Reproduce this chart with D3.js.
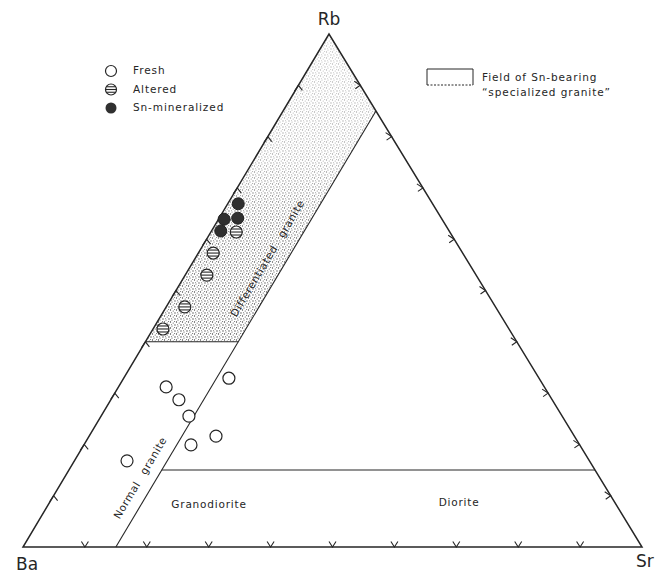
<!DOCTYPE html>
<html>
<head>
<meta charset="utf-8">
<script src="https://cdn.jsdelivr.net/npm/d3@7/dist/d3.min.js"></script>
<style>
  html, body { margin: 0; padding: 0; background: #fff; }
  svg { display: block; }
  text { font-family: "DejaVu Sans", "Liberation Sans", sans-serif; fill: #262626; }
</style>
</head>
<body>
<svg id="chart" width="665" height="574"></svg>
<script>
// Apex labels of the Rb–Ba–Sr ternary diagram
const apexLabels = ["Rb", "Ba", "Sr"];

// Sample compositions in percent [Rb, Sr]; Ba makes up the remainder
const freshRb  = [31.2, 28.7, 25.5, 32.9, 19.9, 21.6, 16.8];
const freshSr  = [7.7, 11.0, 14.2, 17.0, 17.3, 20.5, 8.5];
const alteredRb = [42.5, 46.8, 53.0, 57.3, 61.4];
const alteredSr = [1.6, 3.0, 3.5, 2.4, 4.1];
const mineralRb = [66.9, 64.1, 63.9, 61.6];
const mineralSr = [1.7, 3.0, 0.9, 1.5];

// Field boundaries (percent)
const graniteSrLimit = 15;      // Sr line separating granites from the rest
const differentiatedRbMin = 40; // lower Rb bound of specialized-granite field
const granodioriteRbMax = 15;   // Rb line above Granodiorite / Diorite

// Tick values along each side
const tickValues = [10, 20, 30, 40, 50, 60, 70, 80, 90];

// Legend entries
const legendNames = ["Fresh", "Altered", "Sn-mineralized"];
const fieldLegend = ["Field of Sn-bearing", "\u201Cspecialized granite\u201D"];

const svg = d3.select("#chart");

// Corner positions of the triangle
const BA = [23, 547], SR = [642, 547], RB = [329, 34];

// Ternary projection built from linear scales
const yRb = d3.scaleLinear().domain([0, 100]).range([BA[1], RB[1]]);
const xRb = d3.scaleLinear().domain([0, 100]).range([0, RB[0] - BA[0]]);
const xSr = d3.scaleLinear().domain([0, 100]).range([0, SR[0] - BA[0]]);
const px = (rb, sr) => [BA[0] + xRb(rb) + xSr(sr), yRb(rb)];

const ink = "#262626";

// ---- defs: stipple pattern, thinning out toward the apex
const defs = svg.append("defs");
const pat = defs.append("pattern").attr("id", "stipple")
  .attr("patternUnits", "userSpaceOnUse").attr("width", 6).attr("height", 6);
[[1, 1, 0.65], [4, 2, 0.6], [2.5, 4, 0.65], [5.2, 5, 0.55], [0.3, 3.6, 0.5], [3.6, 0.2, 0.45]]
  .forEach(d => pat.append("circle").attr("cx", d[0]).attr("cy", d[1]).attr("r", d[2]).attr("fill", "#3a3a3a"));

const grad = defs.append("linearGradient").attr("id", "fade")
  .attr("gradientUnits", "userSpaceOnUse")
  .attr("x1", 0).attr("y1", yRb(100)).attr("x2", 0).attr("y2", yRb(differentiatedRbMin));
grad.append("stop").attr("offset", 0).attr("stop-color", "#fff").attr("stop-opacity", 0.35);
grad.append("stop").attr("offset", 0.4).attr("stop-color", "#fff").attr("stop-opacity", 0.5);
grad.append("stop").attr("offset", 0.62).attr("stop-color", "#fff").attr("stop-opacity", 0.85);
grad.append("stop").attr("offset", 1).attr("stop-color", "#fff").attr("stop-opacity", 1);
const mask = defs.append("mask").attr("id", "fadeMask");
mask.append("rect").attr("x", 0).attr("y", 0).attr("width", 665).attr("height", 574)
  .attr("fill", "url(#fade)");

const line = d3.line();

// ---- specialized granite field
const fieldPts = [
  px(100, 0),
  px(100 - graniteSrLimit, graniteSrLimit),
  px(differentiatedRbMin, graniteSrLimit),
  px(differentiatedRbMin, 0)
];
svg.append("path").attr("d", line(fieldPts) + "Z")
  .attr("fill", "url(#stipple)").attr("mask", "url(#fadeMask)").attr("stroke", "none");

// ---- field boundary lines
function seg(a, b) {
  return svg.append("path").attr("d", line([a, b]))
    .attr("stroke", ink).attr("stroke-width", 1.1).attr("fill", "none");
}
seg(px(100 - graniteSrLimit, graniteSrLimit), px(0, graniteSrLimit));
seg(px(differentiatedRbMin, 0), px(differentiatedRbMin, graniteSrLimit));
seg(px(granodioriteRbMax, graniteSrLimit), px(granodioriteRbMax, 100 - granodioriteRbMax));

// ---- triangle outline
svg.append("path").attr("d", line([BA, SR, RB]) + "Z")
  .attr("fill", "none").attr("stroke", ink).attr("stroke-width", 1.5)
  .attr("stroke-linejoin", "miter");

// ---- tick chevrons
const tickPath = (p, arms) =>
  line([[p[0] + arms[0][0], p[1] + arms[0][1]], p, [p[0] + arms[1][0], p[1] + arms[1][1]]]);
tickValues.forEach(v => {
  // left side (Ba–Rb)
  svg.append("path").attr("d", tickPath(px(v, 0), [[-4, 6], [4, 5]]))
    .attr("fill", "none").attr("stroke", ink).attr("stroke-width", 1.1);
  // right side (Rb–Sr)
  svg.append("path").attr("d", tickPath(px(v, 100 - v), [[-6, -4], [-5, 3.5]]))
    .attr("fill", "none").attr("stroke", ink).attr("stroke-width", 1.1);
  // base (Ba–Sr)
  svg.append("path").attr("d", tickPath(px(0, v), [[-3.5, -5.5], [3.5, -5.5]]))
    .attr("fill", "none").attr("stroke", ink).attr("stroke-width", 1.1);
});

// ---- apex labels
svg.append("text").attr("x", RB[0]).attr("y", RB[1] - 9).attr("text-anchor", "middle")
  .attr("font-size", 17).text(apexLabels[0]);
svg.append("text").attr("x", BA[0] - 7).attr("y", BA[1] + 23).attr("text-anchor", "start")
  .attr("font-size", 17).text(apexLabels[1]);
svg.append("text").attr("x", SR[0] - 6).attr("y", SR[1] + 20).attr("text-anchor", "start")
  .attr("font-size", 17).text(apexLabels[2]);

// ---- field labels
const edgeAngle = Math.atan2(RB[1] - BA[1], RB[0] - BA[0]) * 180 / Math.PI;
function rotLabel(rb, sr, str, size, ls, ws) {
  const p = px(rb, sr);
  svg.append("text").attr("transform", `translate(${p[0]},${p[1]}) rotate(${edgeAngle})`)
    .attr("text-anchor", "middle").attr("dominant-baseline", "middle")
    .attr("font-size", size).attr("letter-spacing", ls).attr("word-spacing", ws)
    .text(str);
}
rotLabel(56.2, 11.8, "Differentiated granite", 10.5, 0.6, 7);
rotLabel(13.4, 12.4, "Normal granite", 10.5, 0.6, 6);

function flatLabel(rb, sr, str) {
  const p = px(rb, sr);
  svg.append("text").attr("x", p[0]).attr("y", p[1]).attr("text-anchor", "middle")
    .attr("dominant-baseline", "middle").attr("font-size", 10.5).attr("letter-spacing", 0.8)
    .text(str);
}
flatLabel(8.2, 26.0, "Granodiorite");
flatLabel(8.6, 66.2, "Diorite");

// ---- sample symbols
const R = 6;
function hatched(g, x, y, r) {
  g.append("circle").attr("cx", x).attr("cy", y).attr("r", r)
    .attr("fill", "#fff").attr("stroke", ink).attr("stroke-width", 1.2);
  [-0.5, 0, 0.5].forEach(f => {
    const dy = f * r, hw = Math.sqrt(r * r - dy * dy);
    g.append("line").attr("x1", x - hw).attr("x2", x + hw).attr("y1", y + dy).attr("y2", y + dy)
      .attr("stroke", ink).attr("stroke-width", 1.1);
  });
}
const pts = svg.append("g");
freshRb.forEach((rb, i) => {
  const p = px(rb, freshSr[i]);
  pts.append("circle").attr("cx", p[0]).attr("cy", p[1]).attr("r", R)
    .attr("fill", "#fff").attr("stroke", ink).attr("stroke-width", 1.2);
});
alteredRb.forEach((rb, i) => {
  const p = px(rb, alteredSr[i]);
  hatched(pts, p[0], p[1], R);
});
mineralRb.forEach((rb, i) => {
  const p = px(rb, mineralSr[i]);
  pts.append("circle").attr("cx", p[0]).attr("cy", p[1]).attr("r", R)
    .attr("fill", "#303030").attr("stroke", "#222").attr("stroke-width", 1);
});

// ---- symbol legend
const leg = svg.append("g");
legendNames.forEach((name, i) => {
  const x = 111, y = 71 + i * 18.5;
  if (i === 0) leg.append("circle").attr("cx", x).attr("cy", y).attr("r", 5.5)
    .attr("fill", "#fff").attr("stroke", ink).attr("stroke-width", 1.2);
  if (i === 1) hatched(leg, x, y, 5.5);
  if (i === 2) leg.append("circle").attr("cx", x).attr("cy", y).attr("r", 5.5)
    .attr("fill", "#303030");
  leg.append("text").attr("x", 133).attr("y", y).attr("dominant-baseline", "middle")
    .attr("font-size", 10.5).attr("letter-spacing", 0.9).text(name);
});

// ---- field legend box
const bx = 427, by = 69, bw = 46, bh = 16;
svg.append("path").attr("d", line([[bx, by + bh], [bx, by], [bx + bw, by], [bx + bw, by + bh]]))
  .attr("fill", "none").attr("stroke", ink).attr("stroke-width", 1);
svg.append("line").attr("x1", bx).attr("x2", bx + bw).attr("y1", by + bh).attr("y2", by + bh)
  .attr("stroke", ink).attr("stroke-width", 1).attr("stroke-dasharray", "2,1.5");
fieldLegend.forEach((s, i) => {
  svg.append("text").attr("x", 482).attr("y", 78 + i * 15).attr("dominant-baseline", "middle")
    .attr("font-size", 10.5).attr("letter-spacing", 0.9).text(s);
});
</script>
</body>
</html>
